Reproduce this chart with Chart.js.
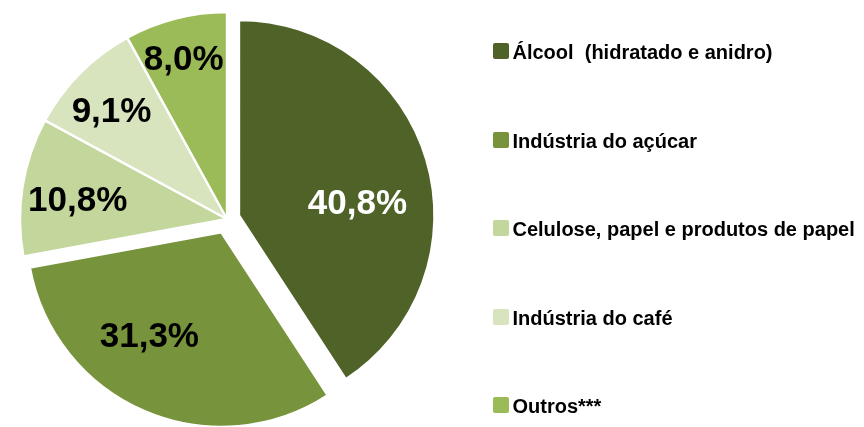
<!DOCTYPE html>
<html>
<head>
<meta charset="utf-8">
<script src="https://cdn.jsdelivr.net/npm/chart.js@4/dist/chart.umd.min.js"></script>
<style>
  html, body { margin: 0; padding: 0; background: #fff; overflow: hidden; }
  #wrap { position: relative; width: 864px; height: 427px; }
  #c { position: absolute; left: 0; top: 0; }
  #legend { position: absolute; left: 492.5px; top: 42.4px; margin: 0; padding: 0; list-style: none;
            font-family: 'Liberation Sans', Arial, sans-serif; font-weight: bold; font-size: 20px; color: #000; }
  #legend li { height: 20px; line-height: 20px; margin-bottom: 68.5px; white-space: pre; }
  #legend .box { display: inline-block; width: 16px; height: 16px; border-radius: 2px; margin-right: 4px; vertical-align: baseline; }
</style>
</head>
<body>
<div id="wrap">
  <canvas id="c" width="864" height="427"></canvas>
  <ul id="legend"></ul>
</div>
<script>
// ---- data ----
const categories = ['Álcool  (hidratado e anidro)', 'Indústria do açúcar', 'Celulose, papel e produtos de papel', 'Indústria do café', 'Outros***'];
const shares = [40.8, 31.3, 10.8, 9.1, 8.0];
const valueLabels = ['40,8%', '31,3%', '10,8%', '9,1%', '8,0%'];

// ---- style ----
const sliceColors = ['#4F6228', '#77933C', '#C3D69B', '#D7E4BD', '#9BBB59'];
const labelColors = ['#FFFFFF', '#000000', '#000000', '#000000', '#000000'];
const explodeDist = [12.5, 14.4, 0, 0, 0];     // pull-out distance of a slice (px)
const explodeShrink = [11.5, 12.3, 0, 0, 0];   // radius reduction of an exploded slice (px)
const labelAngleFrac = [0.57, 0.59, 0.44, 0.44, 0.47];
const labelRadiusFrac = [0.634, 0.682, 0.726, 0.761, 0.794];
const FONT = "'Liberation Sans', Arial, sans-serif";

const explode = {
  id: 'explode',
  afterDatasetUpdate(chart, args) {
    const meta = args.meta;
    meta.data.forEach((arc, i) => {
      const mid = (arc.startAngle + arc.endAngle) / 2;
      arc.x += Math.cos(mid) * explodeDist[i];
      arc.y += Math.sin(mid) * explodeDist[i];
      arc.outerRadius -= explodeShrink[i];
    });
  }
};

const pieLabels = {
  id: 'pieLabels',
  afterDatasetsDraw(chart) {
    const ctx = chart.ctx;
    const meta = chart.getDatasetMeta(0);
    const area = chart.chartArea;
    const cx = (area.left + area.right) / 2;
    const cy = (area.top + area.bottom) / 2;
    const R = meta.controller.outerRadius;
    ctx.save();
    ctx.font = 'bold 35px ' + FONT;
    ctx.textAlign = 'center';
    ctx.textBaseline = 'middle';
    meta.data.forEach((arc, i) => {
      const a = arc.startAngle + labelAngleFrac[i] * (arc.endAngle - arc.startAngle);
      const r = labelRadiusFrac[i] * R;
      ctx.fillStyle = labelColors[i];
      ctx.fillText(valueLabels[i], cx + Math.cos(a) * r, cy + Math.sin(a) * r);
    });
    ctx.restore();
  }
};

new Chart(document.getElementById('c'), {
  type: 'pie',
  data: {
    labels: categories,
    datasets: [{
      data: shares,
      backgroundColor: sliceColors,
      borderColor: '#FFFFFF',
      borderWidth: 2.4,
      borderAlign: 'center',
      radius: 207
    }]
  },
  options: {
    responsive: false,
    animation: false,
    radius: 207,
    layout: { padding: { left: 0, right: 410, top: 11, bottom: 0 } },
    plugins: { legend: { display: false }, tooltip: { enabled: false }, title: { display: false } },
    events: []
  },
  plugins: [explode, pieLabels]
});

// HTML legend built from the same arrays
const ul = document.getElementById('legend');
categories.forEach((name, i) => {
  const li = document.createElement('li');
  const box = document.createElement('span');
  box.className = 'box';
  box.style.background = sliceColors[i];
  li.appendChild(box);
  li.appendChild(document.createTextNode(name));
  ul.appendChild(li);
});
</script>
</body>
</html>
